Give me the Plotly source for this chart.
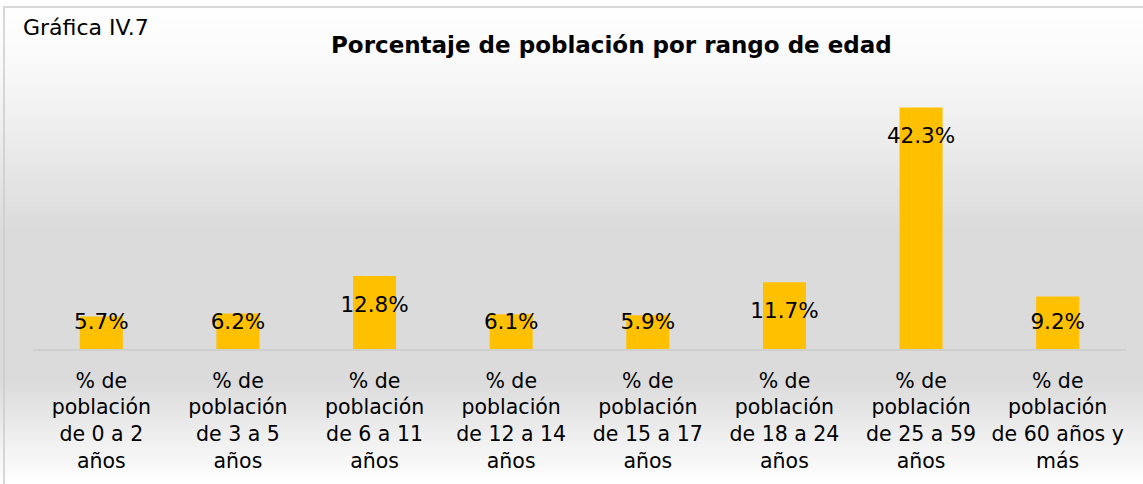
import plotly.graph_objects as go

categories = [
    "% de<br>población<br>de 0 a 2<br>años",
    "% de<br>población<br>de 3 a 5<br>años",
    "% de<br>población<br>de 6 a 11<br>años",
    "% de<br>población<br>de 12 a 14<br>años",
    "% de<br>población<br>de 15 a 17<br>años",
    "% de<br>población<br>de 18 a 24<br>años",
    "% de<br>población<br>de 25 a 59<br>años",
    "% de<br>población<br>de 60 años y<br>más",
]
values = [5.7, 6.2, 12.8, 6.1, 5.9, 11.7, 42.3, 9.2]
labels = [f"{v:.1f}%" for v in values]

W, H = 1143, 484
L, R, T, B = 33, 17, 92, 135
plot_h = H - T - B
plot_w = W - L - R
FONT = "DejaVu Sans"

x_idx = list(range(len(values)))
# Excel-like "inside end" label placement (clamped near the axis for short bars)
label_y = [max(v - 5.3, 4.4) for v in values]

fig = go.Figure()
fig.add_trace(go.Bar(
    x=x_idx, y=values, width=0.315,
    marker=dict(color="#FFC000", line=dict(width=0)),
    hoverinfo="skip",
))
fig.add_trace(go.Scatter(
    x=x_idx, y=label_y, mode="text", text=labels,
    textposition="middle center",
    textfont=dict(family=FONT, size=21.5, color="#000000"),
    hoverinfo="skip", cliponaxis=False,
))

def py_to_paper(py):
    return (H - B - py) / plot_h

def px_to_paper(px):
    return (px - L) / plot_w

# gradient background bands (pixel stops -> gray level)
stops = [(0, 255), (60, 250), (140, 236), (230, 219), (380, 219), (484, 255)]

def gray_at(py):
    for (a, ga), (b, gb) in zip(stops[:-1], stops[1:]):
        if a <= py <= b:
            t = (py - a) / (b - a)
            return round(ga + (gb - ga) * t)
    return 255

shapes = []
step = 3
for py in range(0, H, step):
    g = gray_at(py + step / 2)
    shapes.append(dict(
        type="rect", xref="paper", yref="paper", layer="below",
        x0=px_to_paper(0), x1=px_to_paper(W),
        y0=py_to_paper(py + step), y1=py_to_paper(py),
        fillcolor=f"rgb({g},{g},{g})", line=dict(width=0),
    ))
# outer frame
shapes.append(dict(
    type="rect", xref="paper", yref="paper", layer="below",
    x0=px_to_paper(4), x1=px_to_paper(W + 5),
    y0=py_to_paper(H + 5), y1=py_to_paper(7),
    fillcolor="rgba(0,0,0,0)", line=dict(color="#cccccc", width=1.5),
))

fig.update_layout(
    width=W, height=H,
    margin=dict(l=L, r=R, t=T, b=B, autoexpand=False),
    paper_bgcolor="white",
    plot_bgcolor="rgba(0,0,0,0)",
    showlegend=False,
    shapes=shapes,
    font=dict(family=FONT, color="#000000"),
    annotations=[
        dict(text="<b>Porcentaje de población por rango de edad</b>",
             xref="paper", yref="paper", x=px_to_paper(611), y=py_to_paper(45),
             xanchor="center", yanchor="middle", showarrow=False,
             font=dict(family=FONT, size=23, color="#000000")),
        dict(text="Gráfica IV.7",
             xref="paper", yref="paper", x=px_to_paper(21), y=py_to_paper(27),
             xanchor="left", yanchor="middle", showarrow=False,
             font=dict(family=FONT, size=22, color="#000000")),
    ],
)
fig.update_xaxes(
    tickmode="array", tickvals=x_idx, ticktext=categories,
    range=[-0.5, len(values) - 0.5],
    showline=True, linecolor="#cfcfcf", linewidth=2,
    showgrid=False, zeroline=False, ticks="",
    tickfont=dict(family=FONT, size=20.5, color="#000000"),
    ticklabelstandoff=12, automargin=False,
)
fig.update_yaxes(
    range=[0, 45], visible=False, showgrid=False, zeroline=False,
    automargin=False,
)

fig.write_html(
    "out.html",
    config={"displayModeBar": False, "staticPlot": True},
    post_script="document.body.style.margin='0';document.body.style.overflow='hidden';",
)
